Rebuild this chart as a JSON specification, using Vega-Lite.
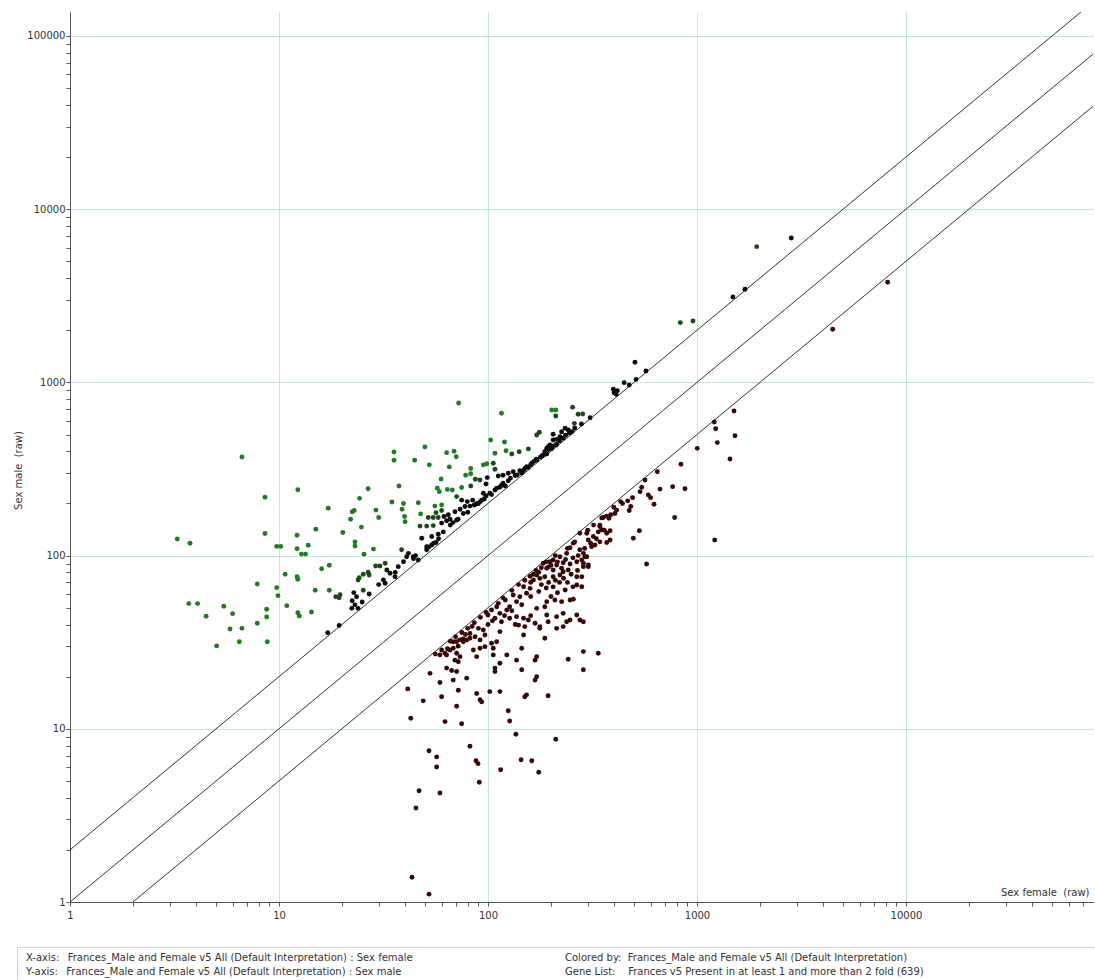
{
  "$schema": "https://vega.github.io/schema/vega-lite/v6.json",
  "background": "white",
  "padding": {"left": 13, "top": 12, "right": 0, "bottom": 0},
  "spacing": 26,
  "config": {
    "font": "DejaVu Sans",
    "view": {"stroke": null},
    "axis": {
      "labelFont": "DejaVu Sans", "labelFontSize": 10, "labelColor": "#333333",
      "titleFont": "DejaVu Sans", "titleFontSize": 10, "titleFontWeight": "normal", "titleColor": "#333333",
      "domainColor": "#555555", "tickColor": "#555555", "labelFlush": false, "labelOverlap": false, "labelBound": false
    }
  },
  "datasets": {
    "lines": [
      {"line": "up", "female": 1, "male": 2}, {"line": "up", "female": 68750, "male": 137500},
      {"line": "eq", "female": 1, "male": 1}, {"line": "eq", "female": 78500, "male": 78500},
      {"line": "down", "female": 2, "male": 1}, {"line": "down", "female": 78500, "male": 39250}
    ],
    "pts": [
      {"female":6.65,"male":371,"g":"g"},{"female":3.26,"male":124.7,"g":"g"},{"female":3.75,"male":117.8,"g":"g"},{"female":8.57,"male":217,"g":"g"},{"female":8.57,"male":134,"g":"g"},{"female":12.3,"male":240,"g":"g"},{"female":9.75,"male":113,"g":"g"},{"female":10.2,"male":113,"g":"g"},{"female":12.2,"male":131,"g":"g"},{"female":12.2,"male":109.6,"g":"g"},{"female":13.8,"male":114.7,"g":"g"},{"female":12.8,"male":102,"g":"g"},{"female":13.4,"male":102,"g":"g"},{"female":15.0,"male":142,"g":"g"},{"female":17.2,"male":187.6,"g":"g"},{"female":20.2,"male":136,"g":"g"},{"female":22.0,"male":162,"g":"g"},{"female":22.4,"male":179,"g":"g"},{"female":22.9,"male":182,"g":"g"},{"female":24.3,"male":214,"g":"g"},{"female":26.7,"male":243,"g":"g"},{"female":24.8,"male":146,"g":"g"},{"female":23.1,"male":120,"g":"g"},{"female":23.1,"male":113.6,"g":"g"},{"female":29.1,"male":183,"g":"g"},{"female":30.0,"male":166,"g":"g"},{"female":28.3,"male":109,"g":"g"},{"female":25.5,"male":101.7,"g":"g"},{"female":16.0,"male":84,"g":"g"},{"female":17.4,"male":87.9,"g":"g"},{"female":10.7,"male":78,"g":"g"},{"female":12.2,"male":75.5,"g":"g"},{"female":12.3,"male":73,"g":"g"},{"female":7.87,"male":68.6,"g":"g"},{"female":9.75,"male":65.3,"g":"g"},{"female":9.89,"male":58.7,"g":"g"},{"female":14.9,"male":63.1,"g":"g"},{"female":17.4,"male":63.1,"g":"g"},{"female":18.7,"male":57.9,"g":"dg"},{"female":19.4,"male":57.1,"g":"dg"},{"female":19.6,"male":59.5,"g":"dg"},{"female":22.8,"male":61.1,"g":"k"},{"female":22.4,"male":54.9,"g":"k"},{"female":23.5,"male":57.9,"g":"k"},{"female":25.3,"male":63.1,"g":"dg"},{"female":23.9,"male":72.3,"g":"dg"},{"female":24.2,"male":74.5,"g":"dg"},{"female":25.3,"male":78,"g":"dg"},{"female":26.7,"male":80.1,"g":"dg"},{"female":27.0,"male":77.3,"g":"dg"},{"female":29.0,"male":87.1,"g":"dg"},{"female":30.4,"male":87.1,"g":"dg"},{"female":32.2,"male":90.3,"g":"dg"},{"female":32.8,"male":82.6,"g":"k"},{"female":31.6,"male":72.3,"g":"k"},{"female":32.2,"male":69.2,"g":"k"},{"female":3.70,"male":52.8,"g":"g"},{"female":4.08,"male":52.8,"g":"g"},{"female":4.48,"male":44.6,"g":"g"},{"female":5.44,"male":51.0,"g":"g"},{"female":6.00,"male":46.2,"g":"g"},{"female":5.83,"male":37.7,"g":"g"},{"female":6.65,"male":38.0,"g":"g"},{"female":7.87,"male":40.7,"g":"g"},{"female":8.73,"male":49.0,"g":"g"},{"female":8.73,"male":44.2,"g":"g"},{"female":10.9,"male":51.4,"g":"g"},{"female":12.3,"male":46.8,"g":"g"},{"female":12.5,"male":44.8,"g":"g"},{"female":14.3,"male":47.2,"g":"g"},{"female":22.3,"male":49.6,"g":"k"},{"female":23.1,"male":51.9,"g":"k"},{"female":23.9,"male":49.6,"g":"k"},{"female":17.1,"male":35.9,"g":"k"},{"female":19.4,"male":39.5,"g":"k"},{"female":5.03,"male":30.1,"g":"g"},{"female":6.46,"male":31.8,"g":"g"},{"female":8.79,"male":31.8,"g":"g"},{"female":34.7,"male":204,"g":"g"},{"female":39.4,"male":200,"g":"g"},{"female":38.8,"male":185,"g":"g"},{"female":46.4,"male":202,"g":"g"},{"female":39.9,"male":168,"g":"g"},{"female":95,"male":334,"g":"g"},{"female":106,"male":341,"g":"dg"},{"female":72.4,"male":760,"g":"g"},{"female":116,"male":663,"g":"g"},{"female":202,"male":693,"g":"g"},{"female":211,"male":693,"g":"g"},{"female":211,"male":640,"g":"dg"},{"female":49.9,"male":424,"g":"g"},{"female":35.5,"male":396,"g":"g"},{"female":35.5,"male":355,"g":"g"},{"female":44.6,"male":355,"g":"g"},{"female":52.4,"male":334,"g":"g"},{"female":63.4,"male":393,"g":"g"},{"female":68.8,"male":400,"g":"g"},{"female":70.5,"male":372,"g":"g"},{"female":65.3,"male":325,"g":"g"},{"female":103,"male":465,"g":"g"},{"female":120,"male":453,"g":"g"},{"female":108,"male":390,"g":"g"},{"female":122,"male":403,"g":"g"},{"female":130,"male":386,"g":"dg"},{"female":141,"male":398,"g":"dg"},{"female":156,"male":413,"g":"dg"},{"female":171,"male":497,"g":"dg"},{"female":176,"male":515,"g":"dg"},{"female":205,"male":502,"g":"k"},{"female":213,"male":469,"g":"k"},{"female":221,"male":486,"g":"k"},{"female":82.7,"male":318,"g":"g"},{"female":82.7,"male":297,"g":"g"},{"female":78.2,"male":291,"g":"g"},{"female":87,"male":276,"g":"dg"},{"female":59.6,"male":277,"g":"g"},{"female":98.6,"male":339,"g":"g"},{"female":108,"male":315,"g":"dg"},{"female":37.5,"male":252,"g":"g"},{"female":57.2,"male":245,"g":"g"},{"female":58.5,"male":234,"g":"g"},{"female":63.9,"male":241,"g":"g"},{"female":67.5,"male":239,"g":"g"},{"female":74.8,"male":247,"g":"g"},{"female":82.7,"male":252,"g":"dg"},{"female":91.6,"male":273,"g":"dg"},{"female":99.2,"male":282,"g":"k"},{"female":97.8,"male":259,"g":"k"},{"female":112,"male":288,"g":"k"},{"female":118,"male":291,"g":"k"},{"female":125,"male":299,"g":"k"},{"female":132,"male":305,"g":"k"},{"female":142,"male":309,"g":"k"},{"female":153,"male":326,"g":"k"},{"female":162,"male":341,"g":"k"},{"female":171,"male":356,"g":"k"},{"female":184,"male":380,"g":"k"},{"female":191,"male":386,"g":"k"},{"female":202,"male":415,"g":"k"},{"female":213,"male":440,"g":"k"},{"female":55.7,"male":193,"g":"g"},{"female":60.0,"male":196,"g":"g"},{"female":60.0,"male":182,"g":"dg"},{"female":56.4,"male":177,"g":"dg"},{"female":70.8,"male":219,"g":"dg"},{"female":74.8,"male":209,"g":"k"},{"female":79.6,"male":205,"g":"k"},{"female":84.5,"male":209,"g":"k"},{"female":88.3,"male":199,"g":"k"},{"female":93.3,"male":209,"g":"k"},{"female":97.8,"male":221,"g":"k"},{"female":102,"male":229,"g":"k"},{"female":108,"male":239,"g":"k"},{"female":114,"male":248,"g":"k"},{"female":121,"male":252,"g":"k"},{"female":40.1,"male":157,"g":"g"},{"female":47.6,"male":174,"g":"g"},{"female":51.8,"male":166,"g":"dg"},{"female":54.7,"male":166,"g":"dg"},{"female":57.8,"male":166,"g":"dg"},{"female":61.6,"male":168,"g":"k"},{"female":64.6,"male":172,"g":"k"},{"female":69.5,"male":179,"g":"k"},{"female":73.5,"male":185,"g":"k"},{"female":77.6,"male":192,"g":"k"},{"female":82.0,"male":193,"g":"k"},{"female":47.3,"male":148,"g":"dg"},{"female":50.9,"male":148,"g":"dg"},{"female":54.7,"male":149,"g":"dg"},{"female":60.0,"male":154,"g":"k"},{"female":63.4,"male":159,"g":"k"},{"female":65.8,"male":162,"g":"k"},{"female":48.2,"male":126,"g":"k"},{"female":53.8,"male":129,"g":"k"},{"female":57.8,"male":133,"g":"k"},{"female":61.1,"male":137,"g":"k"},{"female":38.6,"male":108,"g":"dg"},{"female":41.6,"male":103,"g":"k"},{"female":43.9,"male":98.5,"g":"k"},{"female":50.9,"male":112.6,"g":"k"},{"female":53.8,"male":115,"g":"k"},{"female":56.4,"male":119,"g":"k"},{"female":37.2,"male":86.3,"g":"k"},{"female":34.0,"male":79,"g":"k"},{"female":35.9,"male":75.5,"g":"k"},{"female":39.4,"male":92.2,"g":"k"},{"female":40.8,"male":98.5,"g":"k"},{"female":46.4,"male":94.3,"g":"k"},{"female":50.9,"male":108,"g":"k"},{"female":70.8,"male":160.6,"g":"k"},{"female":76.2,"male":175,"g":"k"},{"female":95,"male":229,"g":"k"},{"female":832,"male":2213,"g":"dg"},{"female":957,"male":2262,"g":"dg"},{"female":505,"male":1306,"g":"k"},{"female":570,"male":1164,"g":"k"},{"female":398,"male":912,"g":"k"},{"female":401,"male":872,"g":"k"},{"female":410,"male":854,"g":"k"},{"female":416,"male":896,"g":"k"},{"female":448,"male":996,"g":"k"},{"female":474,"male":965,"g":"k"},{"female":511,"male":1040,"g":"k"},{"female":308,"male":625,"g":"k"},{"female":254,"male":718,"g":"dg"},{"female":270,"male":654,"g":"dg"},{"female":284,"male":657,"g":"dg"},{"female":259,"male":580,"g":"dg"},{"female":234,"male":543,"g":"k"},{"female":242,"male":531,"g":"k"},{"female":252,"male":519,"g":"k"},{"female":225,"male":519,"g":"k"},{"female":229,"male":476,"g":"k"},{"female":205,"male":465,"g":"k"},{"female":198,"male":435,"g":"k"},{"female":191,"male":416,"g":"k"},{"female":187,"male":398,"g":"k"},{"female":194,"male":425,"g":"k"},{"female":212,"male":435,"g":"k"},{"female":1931,"male":6076,"g":"dg"},{"female":2826,"male":6818,"g":"k"},{"female":1697,"male":3450,"g":"k"},{"female":1486,"male":3112,"g":"k"},{"female":45,"male":100,"g":"k"},{"female":58,"male":125,"g":"k"},{"female":66,"male":150,"g":"k"},{"female":86,"male":196,"g":"k"},{"female":90,"male":200,"g":"k"},{"female":104,"male":225,"g":"k"},{"female":118,"male":262,"g":"k"},{"female":125,"male":270,"g":"k"},{"female":135,"male":290,"g":"k"},{"female":145,"male":300,"g":"k"},{"female":150,"male":318,"g":"k"},{"female":160,"male":335,"g":"k"},{"female":166,"male":350,"g":"k"},{"female":178,"male":370,"g":"k"},
      {"female":110,"male":245,"g":"k"},{"female":116,"male":255,"g":"k"},{"female":128,"male":280,"g":"k"},{"female":138,"male":292,"g":"k"},{"female":148,"male":310,"g":"k"},{"female":156,"male":322,"g":"k"},{"female":170,"male":360,"g":"k"},{"female":182,"male":378,"g":"k"},{"female":195,"male":410,"g":"k"},{"female":205,"male":430,"g":"k"},{"female":220,"male":460,"g":"k"},{"female":235,"male":495,"g":"k"},{"female":245,"male":510,"g":"k"},{"female":260,"male":545,"g":"k"},{"female":280,"male":575,"g":"k"},{"female":68,"male":155,"g":"k"},{"female":72,"male":162,"g":"k"},{"female":80,"male":178,"g":"k"},{"female":92,"male":205,"g":"k"},{"female":96,"male":212,"g":"k"},{"female":52,"male":112,"g":"k"},{"female":55,"male":118,"g":"k"},{"female":44,"male":96,"g":"k"},{"female":36,"male":80,"g":"k"},{"female":30,"male":68,"g":"k"},{"female":27,"male":60,"g":"k"},{"female":25,"male":54,"g":"k"},
      {"female":184,"male":90.3,"g":"r"},{"female":198,"male":92.2,"g":"r"},{"female":213,"male":88.2,"g":"r"},{"female":229,"male":91.0,"g":"r"},{"female":247,"male":89.4,"g":"r"},{"female":266,"male":92.2,"g":"r"},{"female":286,"male":90.3,"g":"r"},{"female":302,"male":86.3,"g":"r"},{"female":191,"male":84.5,"g":"r"},{"female":205,"male":82.6,"g":"r"},{"female":225,"male":84.5,"g":"r"},{"female":242,"male":82.6,"g":"r"},{"female":159,"male":76,"g":"r"},{"female":171,"male":77.3,"g":"r"},{"female":165,"male":72.3,"g":"r"},{"female":177,"male":73.9,"g":"r"},{"female":187,"male":75.5,"g":"r"},{"female":205,"male":75.5,"g":"r"},{"female":221,"male":77.3,"g":"r"},{"female":229,"male":80.7,"g":"r"},{"female":281,"male":75.5,"g":"r"},{"female":266,"male":67.6,"g":"r"},{"female":234,"male":63.3,"g":"r"},{"female":247,"male":55.4,"g":"r"},{"female":225,"male":54.2,"g":"r"},{"female":256,"male":56.0,"g":"r"},{"female":209,"male":55.4,"g":"r"},{"female":191,"male":54.2,"g":"r"},{"female":187,"male":50.7,"g":"r"},{"female":171,"male":49.6,"g":"r"},{"female":159,"male":64.7,"g":"r"},{"female":148,"male":66.1,"g":"r"},{"female":153,"male":60.6,"g":"r"},{"female":142,"male":57.9,"g":"r"},{"female":132,"male":59.2,"g":"r"},{"female":137,"male":54.2,"g":"r"},{"female":127,"male":50.7,"g":"r"},{"female":121,"male":55.4,"g":"r"},{"female":123,"male":48.5,"g":"r"},{"female":114,"male":46.4,"g":"r"},{"female":110,"male":50.7,"g":"r"},{"female":104,"male":48.5,"g":"r"},{"female":100,"male":45.4,"g":"r"},{"female":108,"male":43.5,"g":"r"},{"female":116,"male":41.5,"g":"r"},{"female":127,"male":43.5,"g":"r"},{"female":137,"male":44.4,"g":"r"},{"female":148,"male":43.5,"g":"r"},{"female":156,"male":42.5,"g":"r"},{"female":140,"male":39.7,"g":"r"},{"female":150,"male":38.9,"g":"r"},{"female":168,"male":40.7,"g":"r"},{"female":177,"male":38.9,"g":"r"},{"female":191,"male":45.4,"g":"r"},{"female":194,"male":41.5,"g":"r"},{"female":213,"male":44.4,"g":"r"},{"female":229,"male":46.4,"g":"r"},{"female":238,"male":41.5,"g":"r"},{"female":247,"male":42.5,"g":"r"},{"female":266,"male":45.4,"g":"r"},{"female":286,"male":41.5,"g":"r"},{"female":229,"male":38.9,"g":"r"},{"female":213,"male":38.0,"g":"r"},{"female":187,"male":33.3,"g":"r"},{"female":177,"male":38.0,"g":"r"},{"female":114,"male":36.4,"g":"r"},{"female":95.0,"male":37.2,"g":"r"},{"female":96.7,"male":34.8,"g":"r"},{"female":91.6,"male":32.6,"g":"r"},{"female":86.7,"male":34.0,"g":"r"},{"female":82.0,"male":33.3,"g":"r"},{"female":79.1,"male":32.6,"g":"r"},{"female":76.2,"male":31.8,"g":"r"},{"female":73.5,"male":32.6,"g":"r"},{"female":70.8,"male":31.8,"g":"r"},{"female":68.2,"male":31.8,"g":"r"},{"female":68.2,"male":29.2,"g":"r"},{"female":70.8,"male":27.3,"g":"r"},{"female":73.5,"male":26.1,"g":"r"},{"female":69.5,"male":24.9,"g":"r"},{"female":72.1,"male":24.4,"g":"r"},{"female":65.8,"male":28.5,"g":"r"},{"female":63.4,"male":26.7,"g":"r"},{"female":58.9,"male":26.7,"g":"r"},{"female":62.3,"male":27.3,"g":"r"},{"female":85.1,"male":28.5,"g":"r"},{"female":91.6,"male":29.2,"g":"r"},{"female":96.7,"male":29.8,"g":"r"},{"female":104,"male":31.2,"g":"r"},{"female":106,"male":29.2,"g":"r"},{"female":110,"male":31.8,"g":"r"},{"female":88.3,"male":26.1,"g":"r"},{"female":106,"male":26.7,"g":"r"},{"female":123,"male":26.7,"g":"r"},{"female":114,"male":23.9,"g":"r"},{"female":108,"male":22.4,"g":"r"},{"female":108,"male":21.4,"g":"r"},{"female":145,"male":29.2,"g":"r"},{"female":137,"male":24.9,"g":"r"},{"female":171,"male":26.1,"g":"r"},{"female":168,"male":24.9,"g":"r"},{"female":145,"male":21.9,"g":"r"},{"female":171,"male":20.0,"g":"r"},{"female":168,"male":19.1,"g":"r"},{"female":242,"male":25.2,"g":"r"},{"female":286,"male":27.9,"g":"r"},{"female":337,"male":27.3,"g":"r"},{"female":286,"male":21.9,"g":"r"},{"female":148,"male":34.8,"g":"r"},{"female":63.4,"male":22.4,"g":"r"},{"female":67.0,"male":21.7,"g":"r"},{"female":70.8,"male":21.4,"g":"r"},{"female":68.2,"male":19.1,"g":"r"},{"female":79.1,"male":19.6,"g":"r"},{"female":58.9,"male":18.5,"g":"r"},{"female":52.8,"male":20.9,"g":"r"},{"female":102,"male":16.4,"g":"r"},{"female":114,"male":16.4,"g":"r"},{"female":88.3,"male":16.0,"g":"r"},{"female":91.6,"male":14.7,"g":"r"},{"female":93.3,"male":14.3,"g":"r"},{"female":72.1,"male":16.7,"g":"r"},{"female":60.0,"male":15.3,"g":"r"},{"female":70.8,"male":13.5,"g":"r"},{"female":153,"male":15.7,"g":"r"},{"female":150,"male":15.3,"g":"r"},{"female":194,"male":15.5,"g":"r"},{"female":125,"male":12.7,"g":"r"},{"female":127,"male":11.1,"g":"r"},{"female":62.3,"male":11.0,"g":"r"},{"female":74.8,"male":10.7,"g":"r"},{"female":136,"male":9.3,"g":"r"},{"female":211,"male":8.7,"g":"r"},{"female":41.3,"male":17.0,"g":"r"},{"female":42.7,"male":11.5,"g":"r"},{"female":49.0,"male":14.5,"g":"r"},{"female":52.2,"male":7.47,"g":"r"},{"female":56.8,"male":6.88,"g":"r"},{"female":56.8,"male":6.02,"g":"r"},{"female":82.0,"male":7.93,"g":"r"},{"female":87.6,"male":6.54,"g":"r"},{"female":89.6,"male":6.29,"g":"r"},{"female":90.9,"male":4.91,"g":"r"},{"female":115,"male":5.80,"g":"r"},{"female":144,"male":6.63,"g":"r"},{"female":162,"male":6.54,"g":"r"},{"female":175,"male":5.61,"g":"r"},{"female":46.8,"male":4.39,"g":"r"},{"female":58.9,"male":4.26,"g":"r"},{"female":45.2,"male":3.49,"g":"r"},{"female":43.3,"male":1.39,"g":"r"},{"female":52.2,"male":1.11,"g":"r"},{"female":275,"male":42.5,"g":"r"},{"female":281,"male":66.1,"g":"r"},{"female":266,"male":75.5,"g":"r"},{"female":238,"male":103,"g":"r"},{"female":256,"male":118,"g":"r"},{"female":221,"male":98.5,"g":"r"},{"female":247,"male":111,"g":"r"},{"female":275,"male":108,"g":"r"},{"female":297,"male":98.5,"g":"r"},{"female":275,"male":134.5,"g":"r"},{"female":319,"male":129,"g":"r"},{"female":343,"male":147,"g":"r"},{"female":370,"male":134.5,"g":"r"},{"female":384,"male":123,"g":"r"},{"female":205,"male":94.3,"g":"r"},{"female":1210,"male":591,"g":"r"},{"female":1503,"male":684,"g":"r"},{"female":1229,"male":540,"g":"r"},{"female":1520,"male":492,"g":"r"},{"female":1251,"male":449,"g":"r"},{"female":1003,"male":416,"g":"r"},{"female":1438,"male":361,"g":"r"},{"female":838,"male":337,"g":"r"},{"female":646,"male":305,"g":"r"},{"female":564,"male":273,"g":"r"},{"female":665,"male":242,"g":"r"},{"female":765,"male":250,"g":"r"},{"female":876,"male":243,"g":"r"},{"female":544,"male":248,"g":"r"},{"female":534,"male":234,"g":"r"},{"female":585,"male":224,"g":"r"},{"female":600,"male":216,"g":"r"},{"female":623,"male":198,"g":"r"},{"female":492,"male":216,"g":"r"},{"female":466,"male":207,"g":"r"},{"female":482,"male":192,"g":"r"},{"female":474,"male":182,"g":"r"},{"female":431,"male":205,"g":"r"},{"female":413,"male":183,"g":"r"},{"female":405,"male":175,"g":"r"},{"female":387,"male":172,"g":"r"},{"female":370,"male":169,"g":"r"},{"female":356,"male":166,"g":"r"},{"female":379,"male":164,"g":"r"},{"female":782,"male":166,"g":"r"},{"female":530,"male":139,"g":"r"},{"female":496,"male":126,"g":"r"},{"female":1216,"male":123,"g":"r"},{"female":343,"male":150,"g":"r"},{"female":350,"male":141,"g":"r"},{"female":337,"male":137,"g":"r"},{"female":384,"male":139,"g":"r"},{"female":297,"male":134.5,"g":"r"},{"female":302,"male":123,"g":"r"},{"female":325,"male":115,"g":"r"},{"female":343,"male":120,"g":"r"},{"female":370,"male":119,"g":"r"},{"female":313,"male":112.6,"g":"r"},{"female":286,"male":103,"g":"r"},{"female":291,"male":98.5,"g":"r"},{"female":281,"male":94.3,"g":"r"},{"female":302,"male":88.2,"g":"r"},{"female":286,"male":86.3,"g":"r"},{"female":574,"male":89.4,"g":"r"},{"female":8172,"male":3785,"g":"r"},{"female":4460,"male":2026,"g":"r"},
      {"female":130,"male":63,"g":"r"},{"female":140,"male":68,"g":"r"},{"female":150,"male":72,"g":"r"},{"female":160,"male":70,"g":"r"},{"female":170,"male":82,"g":"r"},{"female":180,"male":85,"g":"r"},{"female":200,"male":88,"g":"r"},{"female":118,"male":57,"g":"r"},{"female":112,"male":53,"g":"r"},{"female":98,"male":47,"g":"r"},{"female":92,"male":44,"g":"r"},{"female":86,"male":41,"g":"r"},{"female":80,"male":38,"g":"r"},{"female":75,"male":36,"g":"r"},{"female":70,"male":34,"g":"r"},{"female":66,"male":32,"g":"r"},{"female":78,"male":35,"g":"r"},{"female":84,"male":39,"g":"r"},{"female":240,"male":110,"g":"r"},{"female":260,"male":120,"g":"r"},{"female":300,"male":140,"g":"r"},{"female":320,"male":150,"g":"r"},{"female":350,"male":165,"g":"r"},{"female":400,"male":190,"g":"r"},{"female":440,"male":200,"g":"r"},{"female":210,"male":100,"g":"r"},{"female":190,"male":92,"g":"r"},
      {"female":165,"male":78,"g":"r"},{"female":175,"male":80,"g":"r"},{"female":195,"male":86,"g":"r"},{"female":215,"male":92,"g":"r"},{"female":235,"male":95,"g":"r"},{"female":255,"male":97,"g":"r"},{"female":270,"male":100,"g":"r"},{"female":290,"male":110,"g":"r"},{"female":310,"male":118,"g":"r"},{"female":330,"male":125,"g":"r"},{"female":360,"male":140,"g":"r"},{"female":180,"male":68,"g":"r"},{"female":195,"male":70,"g":"r"},{"female":210,"male":72,"g":"r"},{"female":230,"male":74,"g":"r"},{"female":250,"male":78,"g":"r"},{"female":268,"male":82,"g":"r"},{"female":120,"male":45,"g":"r"},{"female":130,"male":48,"g":"r"},{"female":145,"male":52,"g":"r"},{"female":160,"male":58,"g":"r"},{"female":175,"male":62,"g":"r"},{"female":190,"male":65,"g":"r"},{"female":205,"male":66,"g":"r"},{"female":220,"male":70,"g":"r"},{"female":100,"male":40,"g":"r"},{"female":105,"male":42,"g":"r"},{"female":90,"male":38,"g":"r"},{"female":82,"male":35.5,"g":"r"},{"female":76,"male":33,"g":"r"},{"female":72,"male":30,"g":"r"},{"female":64,"male":29,"g":"r"},{"female":60,"male":28.5,"g":"r"},{"female":56,"male":27,"g":"r"},{"female":135,"male":40,"g":"r"},{"female":160,"male":45,"g":"r"},{"female":200,"male":58,"g":"r"},{"female":215,"male":61,"g":"r"},{"female":240,"male":70,"g":"r"},{"female":255,"male":66,"g":"r"}
    ],
    "footer": [
      {"col": "left", "line": "1", "text": "X-axis:\u00a0\u00a0\u2009Frances_Male and Female v5 All (Default Interpretation) : Sex female"},
      {"col": "left", "line": "2", "text": "Y-axis:\u00a0\u00a0\u2009Frances_Male and Female v5 All (Default Interpretation) : Sex male"},
      {"col": "right", "line": "1", "text": "Colored by:\u00a0\u00a0Frances_Male and Female v5 All (Default Interpretation)"},
      {"col": "right", "line": "2", "text": "Gene List:\u00a0\u00a0\u00a0\u00a0Frances v5 Present in at least 1 and more than 2 fold (639)"}
    ]
  },
  "vconcat": [
    {
      "width": 1076,
      "height": 890,
      "encoding": {
        "x": {
          "field": "female", "type": "quantitative",
          "scale": {"type": "log", "domain": [1, 78500], "range": [53, 1076], "nice": false},
          "axis": {
            "title": "Sex female\u00a0\u00a0(raw)",
            "titleX": 1072, "titleY": -5, "titleAlign": "right", "titleBaseline": "bottom", "titleAngle": 0,
            "values": [1,2,3,4,5,6,7,8,9,10,20,30,40,50,60,70,80,90,100,200,300,400,500,600,700,800,900,1000,2000,3000,4000,5000,6000,7000,8000,9000,10000,20000,30000,40000,50000,60000,70000],
            "format": "d",
            "labelExpr": "indexof([1,10,100,1000,10000,100000], datum.value) >= 0 ? datum.label : ''",
            "tickSize": 4, "labelPadding": 4,
            "grid": true, "gridColor": "#c4e4e4",
            "gridOpacity": {"condition": {"test": "indexof([10,100,1000,10000], datum.value) >= 0", "value": 1}, "value": 0}
          }
        },
        "y": {
          "field": "male", "type": "quantitative",
          "scale": {"type": "log", "domain": [1, 137500], "nice": false},
          "axis": {
            "title": "Sex male\u00a0\u00a0(raw)",
            "offset": -53,
            "titleX": -52, "titleY": 458, "titleAlign": "center", "titleBaseline": "middle", "titleAngle": -90,
            "values": [1,2,3,4,5,6,7,8,9,10,20,30,40,50,60,70,80,90,100,200,300,400,500,600,700,800,900,1000,2000,3000,4000,5000,6000,7000,8000,9000,10000,20000,30000,40000,50000,60000,70000,80000,90000,100000],
            "format": "d",
            "labelExpr": "indexof([1,10,100,1000,10000,100000], datum.value) >= 0 ? datum.label : ''",
            "tickSize": 4, "labelPadding": 1,
            "grid": true, "gridColor": "#c4e4e4",
            "gridOpacity": {"condition": {"test": "indexof([10,100,1000,10000,100000], datum.value) >= 0", "value": 1}, "value": 0}
          }
        }
      },
      "layer": [
        {
          "data": {"name": "lines"},
          "mark": {"type": "line", "color": "#333333", "strokeWidth": 1, "clip": true},
          "encoding": {"detail": {"field": "line", "type": "nominal"}}
        },
        {
          "data": {"name": "pts"},
          "mark": {"type": "circle", "size": 24, "opacity": 1},
          "encoding": {
            "color": {
              "field": "g", "type": "nominal",
              "scale": {"domain": ["g", "dg", "k", "r"], "range": ["#247a24", "#1a4a1a", "#0d0d0d", "#360808"]},
              "legend": null
            }
          }
        }
      ]
    },
    {
      "width": 1078,
      "height": 36,
      "view": {"stroke": "#c9d6d6", "strokeWidth": 1, "fill": "white"},
      "data": {"name": "footer"},
      "mark": {"type": "text", "align": "left", "baseline": "middle", "font": "DejaVu Sans", "fontSize": 10, "color": "#333333"},
      "encoding": {
        "x": {"field": "col", "type": "nominal", "scale": {"type": "point", "domain": ["left", "right"], "range": [9, 548], "padding": 0}, "axis": null},
        "y": {"field": "line", "type": "nominal", "scale": {"type": "point", "domain": ["1", "2"], "range": [11, 25], "padding": 0}, "axis": null},
        "text": {"field": "text"}
      }
    }
  ]
}
